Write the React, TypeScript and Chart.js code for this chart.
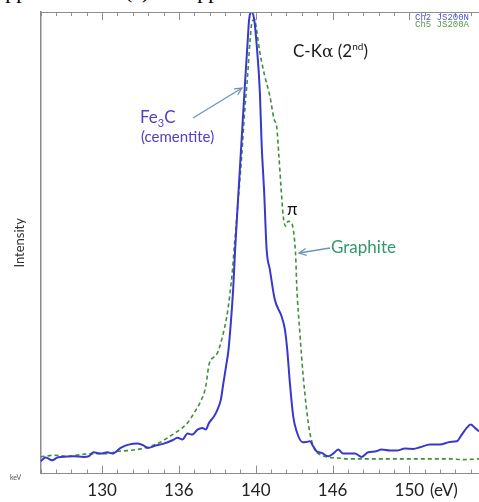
import React, { useEffect, useRef } from 'react';
import { Chart, registerables } from 'chart.js';

Chart.register(...registerables);

// ---- Data (x in axis units, y as % of full scale) ----
const X_MIN = 126;
const X_MAX = 154.53;
const TICK_VALUES = [130, 135, 140, 145, 150];
const TICK_LABELS = ['130', '136', '140', '146', '150'];

const BLUE_NAME = 'Fe3C (cementite)';
const BLUE_X = [126.00,126.33,126.76,127.09,127.74,128.15,128.80,129.13,129.45,129.91,130.35,130.67,131.21,131.73,132.32,132.71,132.97,133.49,134.01,134.58,134.91,135.23,135.56,135.88,136.21,136.53,136.75,136.96,137.29,137.51,137.73,137.90,138.07,138.23,138.38,138.53,138.66,138.81,139.07,139.29,139.47,139.57,139.73,139.90,140.05,140.27,140.38,140.55,140.71,140.92,141.24,141.68,141.90,142.05,142.22,142.44,142.66,143.05,143.31,143.52,143.74,143.96,144.29,144.72,145.04,145.37,145.69,146.13,146.46,146.89,147.32,147.76,148.20,148.74,149.17,149.71,150.25,150.69,151.34,151.99,152.64,153.08,153.41,153.73,153.99,154.27,154.53];
const BLUE_Y = [2.67,3.47,2.88,3.47,3.68,3.75,3.62,3.75,4.62,4.33,4.62,4.33,5.57,6.28,6.50,6.07,5.57,6.07,6.50,7.22,7.74,7.37,8.67,8.45,9.53,9.90,9.53,10.99,12.42,13.87,16.03,19.72,23.25,26.87,32.72,39.87,48.54,57.20,71.72,83.92,93.39,98.37,100,98.37,93.39,82.56,71.72,60.89,48.54,44.20,37.70,34.08,31.20,26.87,19.72,12.42,9.17,6.78,6.87,7.00,5.92,4.83,4.49,3.75,4.33,5.20,4.33,4.33,4.33,3.62,4.62,4.77,5.20,4.98,4.98,5.42,5.35,5.70,6.28,6.28,6.87,7.00,8.45,9.90,10.62,9.90,9.17];

const GREEN_NAME = 'Graphite';
const GREEN_X = [126.00,126.87,127.74,128.61,129.47,130.35,131.00,131.65,132.51,133.17,133.82,134.36,134.91,135.56,135.99,136.42,136.75,136.96,137.29,137.51,137.84,138.12,138.33,138.49,138.59,138.81,139.07,139.29,139.47,139.62,139.77,139.94,140.05,140.27,140.59,140.92,141.20,141.36,141.51,141.64,141.79,141.94,142.11,142.33,142.50,142.61,142.66,142.87,143.09,143.31,143.52,143.85,144.18,144.61,145.26,146.13,147.43,148.74,150.04,151.34,152.64,153.51,154.53];
const GREEN_Y = [3.62,3.97,3.75,4.12,4.33,4.33,4.83,4.98,5.35,5.92,6.87,7.95,9.17,10.99,13.15,15.67,18.92,23.62,25.29,26.15,29.75,34.08,39.15,44.20,48.54,57.20,68.04,78.87,86.09,93.39,98.01,98.37,96.21,91.22,86.09,81.76,76.71,75.26,68.75,62.25,55.75,53.59,54.67,54.32,51.42,46.37,41.39,30.55,21.08,13.87,8.82,5.20,4.12,3.62,3.40,3.19,3.19,3.19,3.19,3.19,3.19,3.03,3.19];

const LEGEND_LINES = ['Ch2 JS200N', 'Ch5 JS200A'];

const W = 479;
const H = 502;
const CANVAS_H = 508;
const FRAME = '#8c8c8c';
const SANS = 'Lato, "Open Sans", sans-serif';

const frameTicks = {
  id: 'frameTicks',
  afterDatasetsDraw(chart: any) {
    const { ctx, chartArea, scales } = chart;
    const { left, right, top, bottom } = chartArea;
    const x = scales.x;
    ctx.save();
    ctx.strokeStyle = FRAME;
    ctx.lineWidth = 1;
    ctx.beginPath();
    ctx.moveTo(left, Math.round(top) + 0.5);
    ctx.lineTo(right, Math.round(top) + 0.5);
    ctx.stroke();
    ctx.beginPath();
    for (let v = Math.ceil(x.min); v <= x.max; v++) {
      const px = Math.round(x.getPixelForValue(v)) + 0.5;
      const major = TICK_VALUES.includes(v);
      const len = major ? 8 : 4;
      ctx.moveTo(px, top);
      ctx.lineTo(px, top + len);
      ctx.moveTo(px, bottom);
      ctx.lineTo(px, bottom - len);
    }
    ctx.stroke();
    ctx.restore();
  },
};

function arrow(x1: number, y1: number, x2: number, y2: number) {
  const dx = x2 - x1, dy = y2 - y1;
  const L = Math.hypot(dx, dy);
  const ux = dx / L, uy = dy / L;
  const h = 8, a = 0.45;
  const c = Math.cos(a), s = Math.sin(a);
  const p1 = [x2 - h * (ux * c - uy * s), y2 - h * (uy * c + ux * s)];
  const p2 = [x2 - h * (ux * c + uy * s), y2 - h * (uy * c - ux * s)];
  return { line: `M${x1},${y1} L${x2},${y2}`, head: `M${p1[0]},${p1[1]} L${x2},${y2} L${p2[0]},${p2[1]}` };
}

export default function App() {
  const ref = useRef<HTMLCanvasElement | null>(null);

  useEffect(() => {
    if (!ref.current) return;
    const chart = new Chart(ref.current, {
      type: 'line',
      data: {
        datasets: [
          {
            label: BLUE_NAME,
            data: BLUE_X.map((x, i) => ({ x, y: BLUE_Y[i] })),
            borderColor: '#3838cc',
            borderWidth: 2,
            pointRadius: 0,
            cubicInterpolationMode: 'monotone',
            fill: false,
          },
          {
            label: GREEN_NAME,
            data: GREEN_X.map((x, i) => ({ x, y: GREEN_Y[i] })),
            borderColor: '#3f8f3a',
            borderWidth: 1.6,
            borderDash: [4, 3],
            pointRadius: 0,
            cubicInterpolationMode: 'monotone',
            fill: false,
          },
        ],
      },
      options: {
        responsive: false,
        animation: false,
        layout: { padding: { top: 12, bottom: 0, left: 0, right: 0 } },
        plugins: { legend: { display: false }, tooltip: { enabled: false } },
        scales: {
          x: {
            type: 'linear',
            min: X_MIN,
            max: X_MAX,
            afterBuildTicks: (scale: any) => {
              scale.ticks = TICK_VALUES.map((v) => ({ value: v }));
            },
            ticks: {
              callback: (v: any) => {
                const i = TICK_VALUES.indexOf(Number(v));
                return i >= 0 ? TICK_LABELS[i] : '';
              },
              autoSkip: false,
              maxRotation: 0,
              padding: 7,
              color: '#222',
              font: { family: SANS, size: 17 },
            },
            grid: { display: false, drawTicks: false, tickLength: 0 },
            border: { display: true, color: FRAME, width: 1 },
          },
          y: {
            type: 'linear',
            min: 0,
            max: 100,
            ticks: { display: false },
            grid: { display: false, drawTicks: false, tickLength: 0 },
            border: { display: true, color: FRAME, width: 1.5 },
            title: {
              display: true,
              text: 'Intensity',
              color: '#333',
              font: { family: SANS, size: 13 },
              padding: { top: 12, bottom: 13 },
            },
          },
        },
      },
      plugins: [frameTicks],
    });
    return () => chart.destroy();
  }, []);

  const a1 = arrow(193, 118, 242, 88);
  const a2 = arrow(330, 248, 299, 253);

  const abs = (left: number, top: number, extra: React.CSSProperties = {}): React.CSSProperties => ({
    position: 'absolute',
    left,
    top,
    whiteSpace: 'nowrap',
    fontFamily: SANS,
    ...extra,
  });

  const serif: React.CSSProperties = { fontFamily: '"Liberation Serif", serif', fontSize: 22, lineHeight: '22px', color: '#000' };

  return (
    <div style={{ position: 'absolute', left: 0, top: 0, width: W, height: H, overflow: 'hidden', background: '#fff' }}>
      {/* cropped caption from the page above */}
      <div style={{ position: 'absolute', left: 0, top: 0, width: W, height: 9, overflow: 'hidden' }}>
        <span style={abs(-18, -20, serif)}>Supp and</span>
        <span style={abs(125, -20, serif)}>(c)</span>
        <span style={abs(174, -20, serif)}>Supplemental Material</span>
      </div>
      <canvas ref={ref} width={W} height={CANVAS_H} style={{ position: 'absolute', left: 0, top: 0, width: W, height: CANVAS_H }} />
      <svg width={W} height={H} style={{ position: 'absolute', left: 0, top: 0, pointerEvents: 'none' }}>
        <path d={a1.line} stroke="#6f93b8" strokeWidth={1.3} fill="none" />
        <path d={a1.head} stroke="#6f93b8" strokeWidth={1.3} fill="none" />
        <path d={a2.line} stroke="#6f93b8" strokeWidth={1.3} fill="none" />
        <path d={a2.head} stroke="#6f93b8" strokeWidth={1.3} fill="none" />
      </svg>
      <div style={abs(415, 14, { fontFamily: '"Liberation Mono", monospace', fontSize: 9, lineHeight: '9px', color: '#4a56c8' })}>{LEGEND_LINES[0]}</div>
      <div style={abs(415, 21, { fontFamily: '"Liberation Mono", monospace', fontSize: 9, lineHeight: '9px', color: '#4f9a45' })}>{LEGEND_LINES[1]}</div>
      <div style={abs(293, 42, { fontSize: 17, lineHeight: '17px', color: '#1a1a1a' })}>
        C-K<span style={{ fontFamily: '"DejaVu Serif", serif' }}>α</span> (2<sup style={{ fontSize: 10, verticalAlign: 'super', lineHeight: 0 }}>nd</sup>)
      </div>
      <div style={abs(140, 108, { fontSize: 17, lineHeight: '17px', color: '#5540c4' })}>
        Fe<sub style={{ fontSize: 11, lineHeight: 0 }}>3</sub>C
      </div>
      <div style={abs(141, 129, { fontSize: 15, lineHeight: '15px', color: '#5540c4' })}>(cementite)</div>
      <div style={abs(287, 200, { fontSize: 17, lineHeight: '17px', color: '#111' })}>π</div>
      <div style={abs(331, 238, { fontSize: 17, lineHeight: '17px', color: '#2f9a6a' })}>{GREEN_NAME}</div>
      <div style={abs(430, 481, { fontSize: 17, lineHeight: '17px', color: '#222' })}>(eV)</div>
      <div style={abs(10, 474, { fontSize: 7, lineHeight: '7px', color: '#555' })}>keV</div>
    </div>
  );
}
